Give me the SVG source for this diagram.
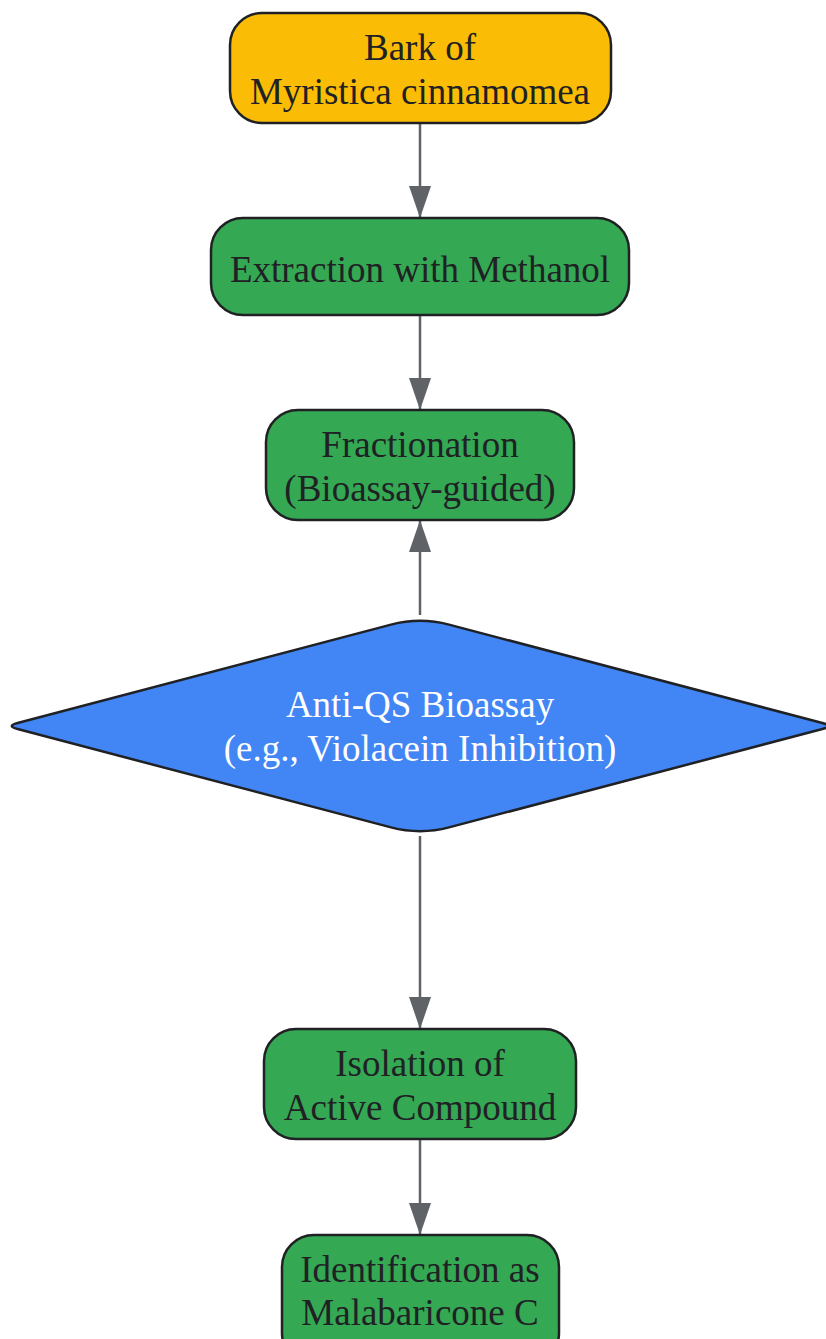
<svg xmlns="http://www.w3.org/2000/svg" width="826" height="1339" viewBox="0 0 826 1339">
<defs>
<marker id="ah" viewBox="0 0 32 22" refX="32" refY="11" markerWidth="32" markerHeight="22" markerUnits="userSpaceOnUse" orient="auto">
<path d="M0,0 L32,11 L0,22 Z" fill="#5f6368"/>
</marker>
<style>
.box{stroke:#202124;stroke-width:2.5}
.t{font-family:"Liberation Serif","Times New Roman",serif;font-size:37px;fill:#202124;text-anchor:middle}
.w{fill:#ffffff}
.e{stroke:#5f6368;stroke-width:2.5;fill:none;marker-end:url(#ah)}
</style>
</defs>
<rect width="826" height="1339" fill="#ffffff"/>
<g id="connectors">
<line class="e" x1="420" y1="123" x2="420" y2="218"/>
<line class="e" x1="420" y1="315" x2="420" y2="410"/>
<line class="e" x1="420" y1="615" x2="420" y2="520"/>
<line class="e" x1="420" y1="836" x2="420" y2="1029"/>
<line class="e" x1="420" y1="1139" x2="420" y2="1235"/>
</g>
<g id="n1">
<rect class="box" x="230" y="13" width="381" height="110" rx="32" fill="#fbbc05"/>
<text class="t" x="420" y="60">Bark of</text>
<text class="t" x="420" y="104">Myristica cinnamomea</text>
</g>
<g id="n2">
<rect class="box" x="211" y="218" width="418" height="97" rx="32" fill="#34a853"/>
<text class="t" x="420" y="282">Extraction with Methanol</text>
</g>
<g id="n3">
<rect class="box" x="266" y="410" width="308" height="110" rx="32" fill="#34a853"/>
<text class="t" x="420" y="457">Fractionation</text>
<text class="t" x="420" y="501">(Bioassay-guided)</text>
</g>
<g id="n4">
<path class="box" fill="#4285f4" d="M391,624.6 Q420,617 449,624.6 L822.4,723 Q834,726 822.4,729 L449,827.4 Q420,835 391,827.4 L17.6,729 Q6,726 17.6,723 Z"/>
<text class="t w" x="420" y="717">Anti-QS Bioassay</text>
<text class="t w" x="420" y="761">(e.g., Violacein Inhibition)</text>
</g>
<g id="n5">
<rect class="box" x="264" y="1029" width="312" height="110" rx="32" fill="#34a853"/>
<text class="t" x="420" y="1076">Isolation of</text>
<text class="t" x="420" y="1120">Active Compound</text>
</g>
<g id="n6">
<rect class="box" x="282" y="1235" width="277" height="130" rx="32" fill="#34a853"/>
<text class="t" x="420" y="1282">Identification as</text>
<text class="t" x="420" y="1325">Malabaricone C</text>
</g>
</svg>
